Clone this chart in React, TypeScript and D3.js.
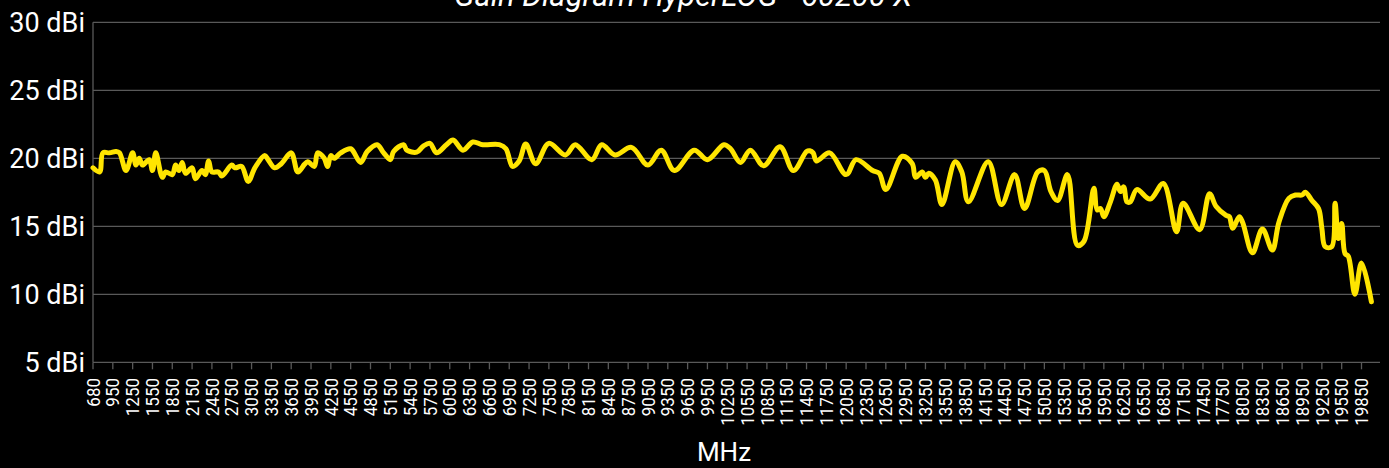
import { useEffect, useRef } from "react";
import * as d3 from "d3";

// frequency (MHz) and measured gain (dBi)
const freqs = [
  680, 750, 800, 900, 1000, 1050, 1150, 1250, 1300, 1350, 1400, 1500, 1550, 1600,
  1700, 1750, 1850, 1900, 1950, 2000, 2050, 2150, 2200, 2300, 2350, 2400, 2450,
  2550, 2600, 2750, 2800, 2900, 3000, 3100, 3250, 3300, 3400, 3500, 3650, 3750,
  3850, 3900, 4000, 4050, 4150, 4200, 4250, 4300, 4400, 4550, 4700, 4800, 4950,
  5050, 5150, 5200, 5350, 5400, 5550, 5650, 5750, 5850, 6000, 6100, 6250, 6400,
  6550, 6800, 6900, 7000, 7100, 7200, 7350, 7550, 7800, 7950, 8200, 8350, 8550,
  8800, 9050, 9250, 9450, 9750, 9950, 10200, 10300, 10450, 10600, 10800, 11050,
  11250, 11450, 11500, 11550, 11600, 11800, 12050, 12200, 12450, 12550, 12650,
  12900, 13050, 13100, 13200, 13250, 13300, 13400, 13500, 13700, 13800, 13900,
  14200, 14400, 14600, 14750, 14950, 15050, 15150, 15250, 15400, 15550, 15650,
  15800, 15850, 15900, 15950, 16050, 16150, 16200, 16250, 16300, 16350, 16450,
  16650, 16850, 17050, 17150, 17400, 17550, 17650, 17800, 17850, 17900, 18000,
  18050, 18200, 18350, 18500, 18600, 18750, 18850, 18950, 19000, 19100, 19200,
  19250, 19300, 19400, 19450, 19500, 19550, 19600, 19650, 19750, 19850, 20000,
];

const gains = [
  19.3, 19.0, 20.4, 20.4, 20.5, 20.4, 19.1, 20.4, 19.5, 20.0, 19.5, 19.9, 19.1, 20.4,
  18.6, 19.0, 18.8, 19.5, 19.1, 19.7, 18.9, 19.3, 18.5, 19.1, 18.8, 19.8, 19.0,
  19.0, 18.7, 19.5, 19.3, 19.4, 18.3, 19.3, 20.2, 19.9, 19.3, 19.6, 20.4, 19.0,
  19.55, 19.75, 19.4, 20.4, 20.0, 19.4, 20.2, 20.0, 20.4, 20.7, 19.7, 20.5, 21.0,
  20.4, 19.9, 20.5, 21.0, 20.6, 20.45, 20.9, 21.1, 20.4, 21.0, 21.35, 20.6, 21.2,
  21.0, 21.0, 20.7, 19.4, 19.8, 21.05, 19.6, 21.1, 20.25, 21.0, 19.9, 21.0, 20.25,
  20.8, 19.5, 20.6, 19.1, 20.6, 19.9, 21.0, 20.7, 19.7, 20.6, 19.45, 20.85,
  19.1, 20.5, 20.55, 20.4, 19.8, 20.4, 18.8, 19.9, 19.1, 18.9, 17.7,
  20.15, 19.6, 18.6, 19.0, 18.6, 18.9, 18.4, 16.6, 19.75, 19.0, 16.8,
  19.75, 16.6, 18.8, 16.3, 19.0, 19.1, 17.55, 16.9, 18.8, 13.6, 13.9,
  17.8, 16.2, 16.3, 15.7, 16.8, 18.1, 17.55, 17.9, 16.8, 16.8, 17.7,
  17.0, 18.15, 14.6, 16.7, 14.75, 17.4, 16.45, 15.8, 15.7, 14.85, 15.7,
  15.3, 13.05, 14.8, 13.25, 15.3, 17.05, 17.3, 17.3, 17.5, 16.9, 16.3,
  14.85, 13.5, 13.5, 16.7, 14.1, 15.2, 13.0, 12.8, 10.0, 12.3, 9.45,
];

const xTickLabels = [
  "680", "950", "1250", "1550", "1850", "2150", "2450", "2750", "3050", "3350",
  "3650", "3950", "4250", "4550", "4850", "5150", "5450", "5750", "6050", "6350",
  "6650", "6950", "7250", "7550", "7850", "8150", "8450", "8750", "9050", "9350",
  "9650", "9950", "10250", "10550", "10850", "11150", "11450", "11750", "12050",
  "12350", "12650", "12950", "13250", "13550", "13850", "14150", "14450", "14750",
  "15050", "15350", "15650", "15950", "16250", "16550", "16850", "17150", "17450",
  "17750", "18050", "18350", "18650", "18950", "19250", "19550", "19850",
];

const yTicks = [5, 10, 15, 20, 25, 30];

const FONT = "Roboto, 'Noto Sans', sans-serif";

function App() {
  const svgRef = useRef<SVGSVGElement>(null);

  useEffect(() => {
    if (!svgRef.current) return;
    const svg = d3.select(svgRef.current);
    svg.selectAll("*").remove();

    const width = 1389;
    const height = 468;
    const left = 93;
    const right = 1380;
    const top = 22.3;
    const bottom = 362.3;

    // category axis: 680, then every 50 MHz from 700
    const x = d3
      .scaleLinear()
      .domain([680, 700, 20130])
      .range([left, left + (right - left) / 389.6, right]);
    const y = d3.scaleLinear().domain([5, 30]).range([bottom, top]);

    svg.append("rect").attr("width", width).attr("height", height).attr("fill", "#000");

    // title (cut off at the top, like the source)
    svg
      .append("text")
      .attr("x", 683)
      .attr("y", 6)
      .attr("text-anchor", "middle")
      .style("font-family", FONT)
      .style("font-style", "italic")
      .style("font-size", "31px")
      .style("fill", "#fff")
      .text("Gain Diagram HyperLOG - 60200 X");

    // gridlines
    svg
      .append("g")
      .selectAll("line")
      .data(yTicks.filter((t) => t > 5))
      .enter()
      .append("line")
      .attr("x1", left)
      .attr("x2", right)
      .attr("y1", (d) => y(d))
      .attr("y2", (d) => y(d))
      .attr("stroke", "#595959")
      .attr("stroke-width", 1.3);

    // y labels
    svg
      .append("g")
      .selectAll("text")
      .data(yTicks)
      .enter()
      .append("text")
      .attr("x", 85)
      .attr("y", (d) => y(d))
      .attr("dy", "0.35em")
      .attr("text-anchor", "end")
      .style("font-family", FONT)
      .style("font-size", "27px")
      .style("fill", "#fff")
      .text((d) => `${d} dBi`);

    // axes lines
    svg
      .append("line")
      .attr("x1", left)
      .attr("x2", left)
      .attr("y1", top)
      .attr("y2", bottom)
      .attr("stroke", "#595959")
      .attr("stroke-width", 1.3);
    svg
      .append("line")
      .attr("x1", left)
      .attr("x2", right)
      .attr("y1", bottom)
      .attr("y2", bottom)
      .attr("stroke", "#595959")
      .attr("stroke-width", 1.3);

    // x ticks + labels
    const ticks = svg
      .append("g")
      .selectAll("g")
      .data(xTickLabels)
      .enter()
      .append("g")
      .attr("transform", (d) => `translate(${x(+d)},0)`);

    ticks
      .append("line")
      .attr("y1", bottom)
      .attr("y2", bottom + 7)
      .attr("stroke", "#595959")
      .attr("stroke-width", 1.3);

    ticks
      .append("text")
      .attr("transform", `translate(0, 378) rotate(-90) scale(1, 1.12)`)
      .attr("dy", "0.35em")
      .attr("text-anchor", "end")
      .style("font-family", FONT)
      .style("font-size", "17px")
      .style("fill", "#fff")
      .text((d) => d);

    // axis title
    svg
      .append("text")
      .attr("x", 724)
      .attr("y", 461)
      .attr("text-anchor", "middle")
      .style("font-family", FONT)
      .style("font-size", "26px")
      .style("fill", "#fff")
      .text("MHz");

    // gain line
    const line = d3
      .line<number>()
      .x((_, i) => x(freqs[i]))
      .y((d) => y(d))
      .curve(d3.curveCatmullRom.alpha(0.5));

    svg
      .append("path")
      .datum(gains)
      .attr("d", line)
      .attr("fill", "none")
      .attr("stroke", "#FFE500")
      .attr("stroke-width", 5)
      .attr("stroke-linejoin", "round")
      .attr("stroke-linecap", "round");
  }, []);

  return (
    <div style={{ position: "fixed", left: 0, top: 0 }}>
      <svg ref={svgRef} width={1389} height={468} style={{ display: "block" }} />
    </div>
  );
}

export default App;
